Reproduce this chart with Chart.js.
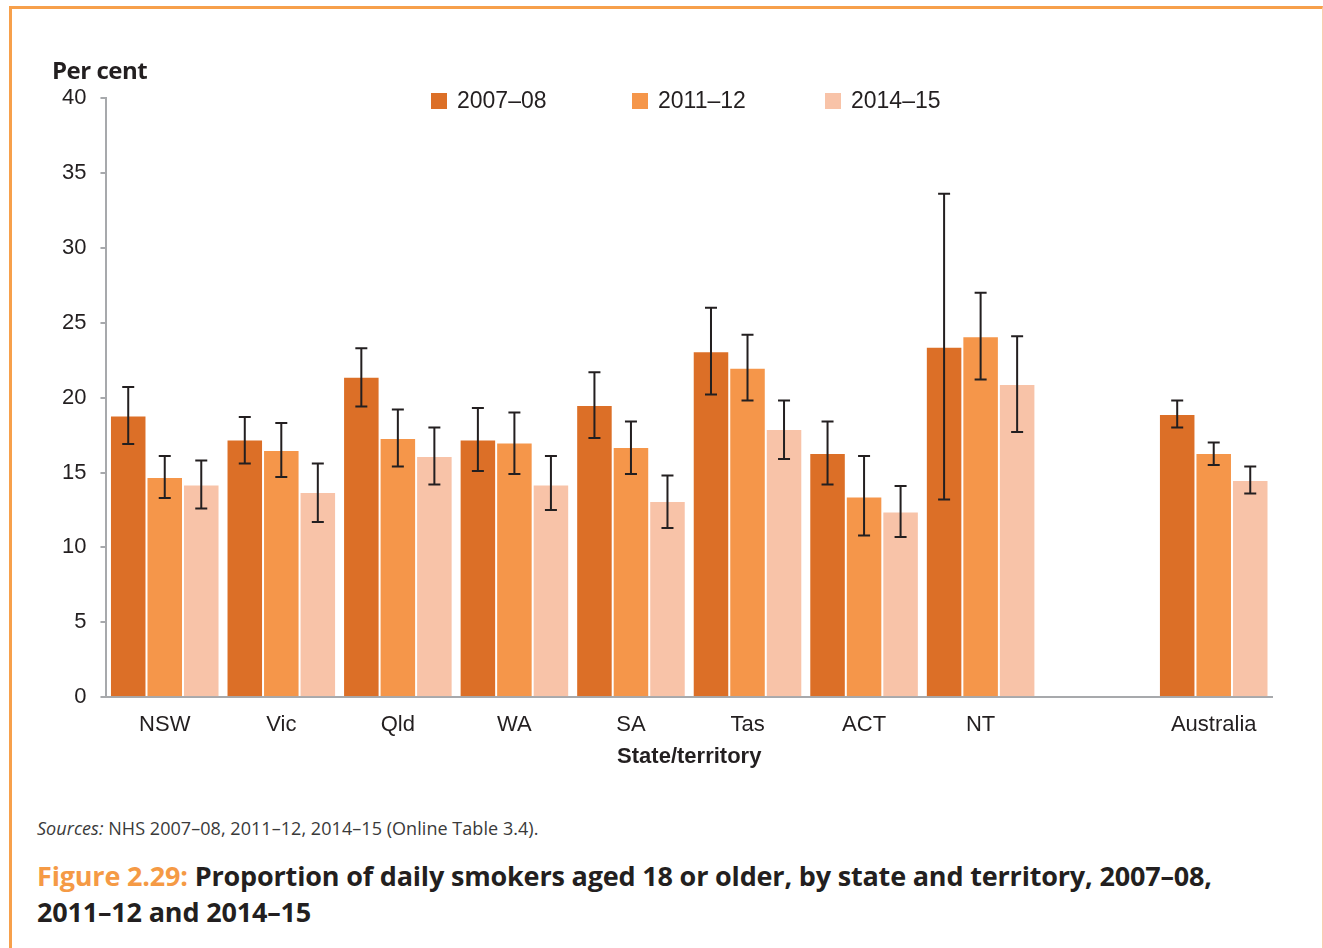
<!DOCTYPE html>
<html>
<head>
<meta charset="utf-8">
<script src="https://cdn.jsdelivr.net/npm/chart.js@4"></script>
<style>
  body { margin: 0; background: #fff; }
  #page { position: relative; width: 1323px; height: 948px; overflow: hidden; background: #fff; }
  #frame { position: absolute; left: 9px; top: 6px; width: 1310px; height: 960px;
           border-top: 3px solid #f7a04b; border-left: 3px solid #f7a04b; border-right: 1px solid #f9cfae; }
  #wrap { position: absolute; left: 0; top: 0; width: 1323px; height: 790px; }
  #ytitle { position: absolute; left: 52px; top: 53px; font: bold 24px "Open Sans", sans-serif; color: #231f20; letter-spacing: -0.5px; }
  #legend { position: absolute; left: 0; top: 87px; font: 23px "Liberation Sans", Arial, sans-serif; color: #231f20; }
  .item { position: absolute; top: 0; white-space: nowrap; line-height: 26px; }
  .sw { display: inline-block; width: 16px; height: 16px; vertical-align: -1px; margin-right: 10px; }
  #sources { position: absolute; left: 37px; top: 816px; font: 18px "Open Sans", sans-serif; color: #3a3a3a; letter-spacing: 0.05px; }
  #caption { position: absolute; left: 37px; top: 858px; font: bold 27px "Open Sans", sans-serif; color: #231f20; line-height: 36px; letter-spacing: -0.18px; white-space: nowrap; }
  #caption .fig { color: #f59a45; }
</style>
</head>
<body>
<div id="page">
  <div id="frame"></div>
  <div id="wrap"><canvas id="myChart"></canvas></div>
  <div id="ytitle">Per cent</div>
  <div id="legend"></div>
  <div id="sources"><i>Sources:</i> NHS 2007–08, 2011–12, 2014–15 (Online Table 3.4).</div>
  <div id="caption"><span class="fig">Figure 2.29:</span> Proportion of daily smokers aged 18 or older, by state and territory, 2007–08,<br>2011–12 and 2014–15</div>
</div>
<script>
// categories (blank slot keeps the gap before Australia)
const categories = ['NSW', 'Vic', 'Qld', 'WA', 'SA', 'Tas', 'ACT', 'NT', '', 'Australia'];
const seriesNames = ['2007–08', '2011–12', '2014–15'];
const seriesColors = ['#dc6f27', '#f5964a', '#f8c3a8'];

const values0708 = [18.8, 17.2, 21.4, 17.2, 19.5, 23.1, 16.3, 23.4, null, 18.9];
const low0708    = [16.9, 15.6, 19.4, 15.1, 17.3, 20.2, 14.2, 13.2, null, 18.0];
const high0708   = [20.7, 18.7, 23.3, 19.3, 21.7, 26.0, 18.4, 33.6, null, 19.8];

const values1112 = [14.7, 16.5, 17.3, 17.0, 16.7, 22.0, 13.4, 24.1, null, 16.3];
const low1112    = [13.3, 14.7, 15.4, 14.9, 14.9, 19.8, 10.8, 21.2, null, 15.5];
const high1112   = [16.1, 18.3, 19.2, 19.0, 18.4, 24.2, 16.1, 27.0, null, 17.0];

const values1415 = [14.2, 13.7, 16.1, 14.2, 13.1, 17.9, 12.4, 20.9, null, 14.5];
const low1415    = [12.6, 11.7, 14.2, 12.5, 11.3, 15.9, 10.7, 17.7, null, 13.6];
const high1415   = [15.8, 15.6, 18.0, 16.1, 14.8, 19.8, 14.1, 24.1, null, 15.4];

const yTicks = [0, 5, 10, 15, 20, 25, 30, 35, 40];

// html legend
const legendX = [431, 632, 825];
const legend = document.getElementById('legend');
seriesNames.forEach(function (name, i) {
    const el = document.createElement('div');
    el.className = 'item';
    el.style.left = legendX[i] + 'px';
    el.innerHTML = '<span class="sw" style="background:' + seriesColors[i] + '"></span>' + name;
    legend.appendChild(el);
});

// draws the confidence interval whiskers
const errorBars = {
    id: 'errorBars',
    afterDatasetsDraw(chart) {
        const ctx = chart.ctx;
        const y = chart.scales.y;
        chart.data.datasets.forEach(function (ds, i) {
            const meta = chart.getDatasetMeta(i);
            meta.data.forEach(function (bar, j) {
                const lo = ds.errLow[j], hi = ds.errHigh[j];
                if (lo == null || hi == null) return;
                const yl = y.getPixelForValue(lo), yh = y.getPixelForValue(hi);
                ctx.save();
                ctx.strokeStyle = '#231f20';
                ctx.lineWidth = 2;
                ctx.beginPath();
                ctx.moveTo(bar.x, yh); ctx.lineTo(bar.x, yl);
                ctx.moveTo(bar.x - 6, yh); ctx.lineTo(bar.x + 6, yh);
                ctx.moveTo(bar.x - 6, yl); ctx.lineTo(bar.x + 6, yl);
                ctx.stroke();
                ctx.restore();
            });
        });
    }
};

const values = [values0708, values1112, values1415];
const lows = [low0708, low1112, low1415];
const highs = [high0708, high1112, high1415];

const data = {
    labels: categories,
    datasets: seriesNames.map(function (name, i) {
        return {
            label: name,
            data: values[i],
            errLow: lows[i],
            errHigh: highs[i],
            backgroundColor: seriesColors[i],
            borderColor: 'rgba(255,255,255,0.35)',
            borderWidth: 1,
            categoryPercentage: 0.94,
            barPercentage: 1.0
        };
    })
};

const tickFont = { family: '"Liberation Sans", Arial, sans-serif', size: 22 };

const options = {
    responsive: true,
    maintainAspectRatio: false,
    animation: false,
    layout: { padding: { top: 98, left: 48, right: 51, bottom: 20 } },
    plugins: { legend: { display: false }, tooltip: { enabled: false } },
    scales: {
        x: {
            grid: { drawOnChartArea: false, drawTicks: false },
            border: { display: true, color: '#a7a9ac', width: 2 },
            ticks: { font: tickFont, color: '#231f20', padding: 15, autoSkip: false, maxRotation: 0 },
            title: {
                display: true, text: 'State/territory', color: '#231f20',
                font: { family: '"Liberation Sans", Arial, sans-serif', size: 22, weight: 'bold' },
                padding: { top: -10, bottom: 0 }
            }
        },
        y: {
            min: 0,
            max: 40,
            afterBuildTicks: function (axis) { axis.ticks = yTicks.map(function (v) { return { value: v }; }); },
            grid: { drawOnChartArea: false, drawTicks: true, tickLength: 6, color: '#a7a9ac', lineWidth: 2 },
            border: { display: true, color: '#a7a9ac', width: 2 },
            ticks: { font: tickFont, color: '#231f20', padding: 14 }
        }
    }
};

new Chart(document.getElementById('myChart'), {
    type: 'bar',
    data: data,
    options: options,
    plugins: [errorBars]
});
</script>
</body>
</html>
